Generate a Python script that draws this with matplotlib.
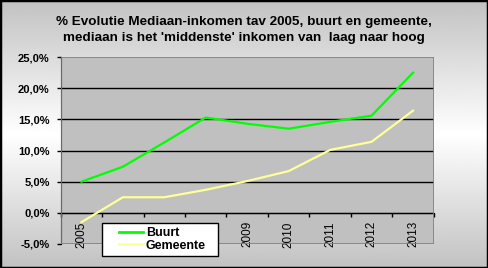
"""Mediaan-inkomen evolutie, buurt vs gemeente (Excel-style line chart)."""
import numpy as np
import matplotlib
matplotlib.use("Agg")
import matplotlib.pyplot as plt
from matplotlib.patches import Rectangle
from matplotlib.ticker import FuncFormatter

years    = ["2005", "2006", "2007", "2008", "2009", "2010", "2011", "2012", "2013"]
buurt    = [5.0, 7.4, 11.3, 15.3, 14.3, 13.5, 14.6, 15.6, 22.5]
gemeente = [-1.5, 2.5, 2.5, 3.7, 5.1, 6.7, 10.1, 11.4, 16.4]

plt.rcParams["font.family"] = ["Liberation Sans", "DejaVu Sans"]

fig = plt.figure(figsize=(4.88, 2.68), dpi=100)

# background: vertical gray-white-gray gradient
bg = fig.add_axes([0, 0, 1, 1], zorder=-5)
t = np.linspace(0, 1, 256)
shade = 1.0 - 0.24 * np.abs(t - 0.5) / 0.5
img = np.repeat(shade[:, None], 4, axis=1)
bg.imshow(img, cmap="gray", vmin=0, vmax=1, aspect="auto",
          extent=(0, 1, 0, 1), origin="upper")
bg.add_patch(Rectangle((0, 0), 1, 1, transform=bg.transAxes, fill=False,
                       edgecolor="black", linewidth=2.5))
bg.set_axis_off()

ax = fig.add_axes([0.1244, 0.0896, 0.7644, 0.6974])
ax.set_facecolor("#c0c0c0")
x = np.arange(len(years))
ax.plot(x, buurt, color="#00ff00", lw=1.6, label="Buurt", zorder=3)
ax.plot(x, gemeente, color="#ffff99", lw=1.6, label="Gemeente", zorder=3)

ax.set_xlim(-0.5, len(years) - 0.5)
ax.set_ylim(-5, 25)
ax.set_yticks(range(-5, 26, 5))
ax.yaxis.set_major_formatter(FuncFormatter(lambda v, p: f"{v:.1f}%".replace(".", ",")))
for v in range(0, 25, 5):
    ax.axhline(v, color="black", lw=1.0, zorder=1)

for s in ax.spines.values():
    s.set_visible(False)
ax.add_patch(Rectangle((0, 0), 1, 1, transform=ax.transAxes, fill=False,
                       edgecolor="#808080", linewidth=1.2, zorder=4))
ax.spines["bottom"].set_visible(True)
ax.spines["bottom"].set_position(("data", 0))
ax.spines["bottom"].set_color("black")
ax.spines["left"].set_visible(True)
ax.spines["left"].set_color("black")

ax.set_xticks(np.arange(-0.5, len(years), 1.0))
ax.set_xticklabels([])
ax.set_xticks(x, minor=True)
ax.set_xticklabels(years, minor=True, rotation=90, fontsize=8.5)
ax.tick_params(axis="x", which="major", direction="out", length=3, width=1)
ax.tick_params(axis="x", which="minor", length=0, pad=6)
ax.tick_params(axis="y", direction="out", length=3, width=1, pad=5)
for lab in ax.get_yticklabels():
    lab.set_fontsize(8)
    lab.set_fontweight("bold")

fig.text(0.5, 0.918, "% Evolutie Mediaan-inkomen tav 2005, buurt en gemeente,",
         ha="center", va="center", fontsize=9.7, fontweight="bold")
fig.text(0.5, 0.858, "mediaan is het 'middenste' inkomen van  laag naar hoog",
         ha="center", va="center", fontsize=9.7, fontweight="bold")

# legend: white box drawn separately, entries placed inside it
box = Rectangle((102 / 488, 1 - 256 / 268), 116 / 488, 33 / 268,
                transform=fig.transFigure, facecolor="white", edgecolor="black",
                linewidth=1.0, zorder=4)
fig.add_artist(box)
leg = fig.legend(loc="center left", bbox_to_anchor=(119 / 488, 1 - 239.5 / 268),
                 borderaxespad=0, borderpad=0, frameon=False,
                 handlelength=1.9, handletextpad=0.25, labelspacing=0.05,
                 prop={"size": 9, "weight": "bold"})
leg.set_zorder(5)
for line in leg.get_lines():
    line.set_linewidth(2)

fig.savefig("out.png", dpi=100)
